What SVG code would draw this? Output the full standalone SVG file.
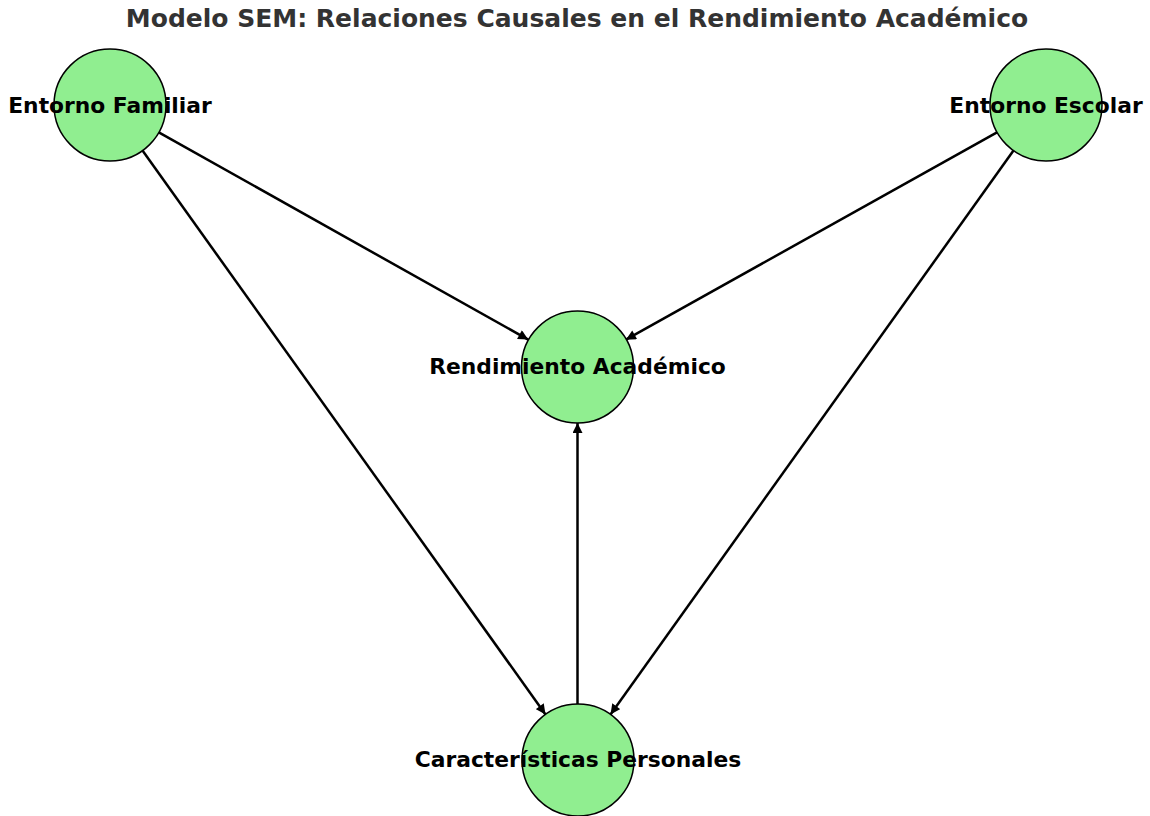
<svg xmlns="http://www.w3.org/2000/svg" width="1150" height="816" viewBox="0 0 1150 816">
<style>
.node circle{fill:#90EE90;stroke:#000;stroke-width:1.5}
.node text{font-family:"DejaVu Sans",sans-serif;font-weight:bold;font-size:21.8px;fill:#000;text-anchor:middle;dominant-baseline:central}
.edge{stroke:#000;stroke-width:2.5;fill:none;marker-end:url(#ah)}
.title{font-family:"DejaVu Sans",sans-serif;font-weight:bold;font-size:25px;fill:#333;text-anchor:middle}
</style>
<defs>
<marker id="ah" viewBox="0 0 10 10" refX="10" refY="5" markerWidth="4.4" markerHeight="4" markerUnits="strokeWidth" orient="auto">
<path d="M0,0 L10,5 L0,10 z" fill="#000"/>
</marker>
</defs>
<rect width="1150" height="816" fill="#fff"/>
<text class="title" x="577" y="27">Modelo SEM: Relaciones Causales en el Rendimiento Académico</text>
<g id="edges">
<line class="edge" x1="158.8" y1="132.4" x2="528.2" y2="339.6"/>
<line class="edge" x1="142.5" y1="150.6" x2="545.5" y2="714.4"/>
<line class="edge" x1="997" y1="132.3" x2="625.9" y2="339.7"/>
<line class="edge" x1="1013.5" y1="150.6" x2="610.5" y2="714.4"/>
<line class="edge" x1="577.5" y1="704" x2="577.5" y2="423"/>
</g>
<g id="familiar" class="node"><circle cx="110" cy="105" r="56"/><text x="110" y="105">Entorno Familiar</text></g>
<g id="escolar" class="node"><circle cx="1046" cy="105" r="56"/><text x="1046" y="105">Entorno Escolar</text></g>
<g id="rendimiento" class="node"><circle cx="577.5" cy="367" r="56"/><text x="577.5" y="366">Rendimiento Académico</text></g>
<g id="personales" class="node"><circle cx="578" cy="760" r="56"/><text x="578" y="759">Características Personales</text></g>
</svg>
